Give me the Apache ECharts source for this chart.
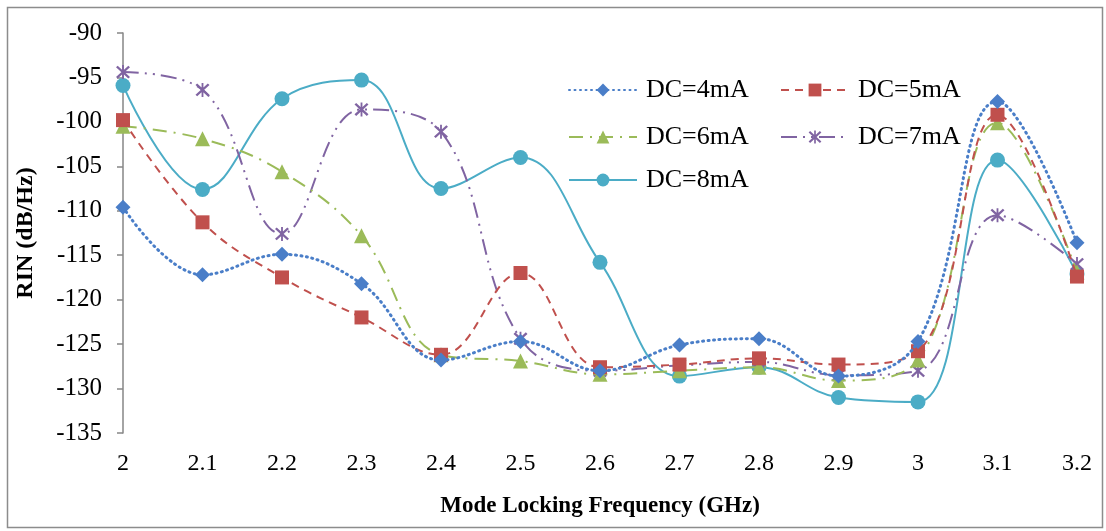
<!DOCTYPE html>
<html><head><meta charset="utf-8">
<script src="https://cdn.jsdelivr.net/npm/echarts@6/dist/echarts.min.js"></script>
<style>html,body{margin:0;padding:0;background:#fff}#c{width:1106px;height:531px}</style>
</head><body><div id="c"></div>
<script>
const freqs = [2.0, 2.1, 2.2, 2.3, 2.4, 2.5, 2.6, 2.7, 2.8, 2.9, 3.0, 3.1, 3.2];
const dc4 = [-109.6, -117.2, -114.9, -118.2, -126.8, -124.7, -128.0, -125.1, -124.4, -128.6, -124.7, -97.7, -113.6];
const dc5 = [-99.8, -111.3, -117.5, -122.0, -126.2, -117.0, -127.6, -127.3, -126.6, -127.3, -125.8, -99.2, -117.4];
const dc6 = [-100.5, -101.9, -105.6, -112.8, -126.2, -126.9, -128.4, -128.0, -127.6, -129.1, -126.8, -100.1, -116.9];
const dc7 = [-94.4, -96.4, -112.6, -98.6, -101.1, -124.4, -128.0, -127.4, -127.0, -128.5, -128.0, -110.5, -116.0];
const dc8 = [-95.9, -107.6, -97.4, -95.3, -107.5, -104.0, -115.8, -128.6, -127.6, -131.0, -131.5, -104.3, -117.1];
const seriesNames = ['DC=4mA', 'DC=5mA', 'DC=6mA', 'DC=7mA', 'DC=8mA'];
const yTicks = {min: -135, max: -90, interval: 5};
const xTicks = {min: 2, max: 3.2, interval: 0.1};

const font = '"Liberation Serif", "Times New Roman", serif';
const starPath = 'path://M4.4 0 L5.6 0 L5.6 10 L4.4 10 Z M0.4 1.5 L1.5 0.4 L9.6 8.5 L8.5 9.6 Z M8.5 0.4 L9.6 1.5 L1.5 9.6 L0.4 8.5 Z';
const styles = [
  {color: '#4A7EC8', type: [1, 4.5], cap: 'round', width: 3, symbol: 'diamond', size: 15},
  {color: '#C0504D', type: [8, 6], cap: 'butt', width: 2, symbol: 'rect', size: 14},
  {color: '#9BBB59', type: [14, 7, 2, 7], cap: 'butt', width: 2, symbol: 'triangle', size: 15},
  {color: '#8064A2', type: [16, 6, 2, 6, 2, 6], cap: 'butt', width: 2, symbol: starPath, size: 14},
  {color: '#4BACC6', type: 'solid', cap: 'butt', width: 2, symbol: 'circle', size: 15}
];
const allData = [dc4, dc5, dc6, dc7, dc8];

const series = allData.map((arr, i) => ({
  name: seriesNames[i],
  type: 'line',
  smooth: 0.4,
  data: freqs.map((f, j) => [f, arr[j]]),
  symbol: styles[i].symbol,
  symbolSize: styles[i].size,
  showAllSymbol: true,
  lineStyle: {color: styles[i].color, width: styles[i].width, type: styles[i].type, cap: styles[i].cap},
  itemStyle: {color: styles[i].color, borderWidth: 0},
  emphasis: {disabled: true},
  z: 10 - i
}));

const legendPos = [[568, 90], [780, 90], [568, 137], [780, 137], [568, 180]];
const legends = seriesNames.map((n, i) => ({
  data: [n],
  left: legendPos[i][0],
  top: legendPos[i][1] - 15,
  padding: 0,
  itemWidth: 68,
  itemHeight: 16,
  itemGap: 8,
  textStyle: {fontFamily: font, fontSize: 26, color: '#000', lineHeight: 30, padding: [0, 0, 0, 4]},
  selectedMode: false
}));

const chart = echarts.init(document.getElementById('c'), null, {renderer: 'canvas'});
chart.setOption({
  animation: false,
  backgroundColor: '#fff',
  graphic: [{type: 'rect', left: 5, top: 5, shape: {x: 0, y: 0, width: 1095, height: 520}, style: {fill: 'none', stroke: '#8c8c8c', lineWidth: 1.5}, silent: true, z: -1}],
  grid: {left: 123, right: 29, top: 33, bottom: 98},
  legend: legends,
  xAxis: {
    type: 'value', min: xTicks.min, max: xTicks.max, interval: xTicks.interval,
    name: 'Mode Locking Frequency (GHz)', nameLocation: 'middle', nameGap: 62,
    nameTextStyle: {fontFamily: font, fontSize: 23, fontWeight: 'bold', color: '#000'},
    axisLine: {show: false}, axisTick: {show: false}, splitLine: {show: false},
    axisLabel: {fontFamily: font, fontSize: 24, color: '#000', margin: 19,
      formatter: v => String(Math.round(v * 10) / 10)}
  },
  yAxis: {
    type: 'value', min: yTicks.min, max: yTicks.max, interval: yTicks.interval,
    name: 'RIN (dB/Hz)', nameLocation: 'middle', nameGap: 85, nameRotate: 90,
    nameTextStyle: {fontFamily: font, fontSize: 24, fontWeight: 'bold', color: '#000'},
    axisLine: {show: true, lineStyle: {color: '#868686', width: 1.5}},
    axisTick: {show: true, length: 6, lineStyle: {color: '#868686', width: 1.5}},
    splitLine: {show: false},
    axisLabel: {fontFamily: font, fontSize: 25, color: '#000', margin: 21}
  },
  series: series
});
</script></body></html>
